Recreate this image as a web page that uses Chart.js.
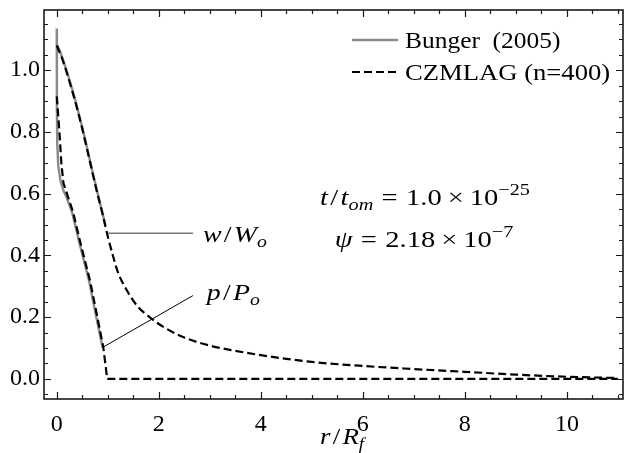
<!DOCTYPE html>
<html>
<head>
<meta charset="utf-8">
<script src="https://cdn.jsdelivr.net/npm/chart.js@4.4.1/dist/chart.umd.min.js"></script>
<style>
  html, body { margin: 0; padding: 0; background: #fff; }
</style>
</head>
<body>
<canvas id="myChart" width="628" height="453"></canvas>
<script>
// CZMLAG (n=400): crack opening w/Wo against r/Rf
const czmOpenR = [0, 0.1, 0.2, 0.3, 0.4, 0.5, 0.6, 0.7, 0.8, 0.9, 1.0, 1.1, 1.2, 1.37, 1.59, 1.82, 2.0, 2.2, 2.5, 3, 3.5, 4, 4.5, 5, 6, 7, 8, 9, 10, 11];
const czmOpen = [1.08, 1.04, 0.99, 0.935, 0.875, 0.81, 0.74, 0.668, 0.598, 0.533, 0.462, 0.4, 0.345, 0.288, 0.234, 0.2, 0.178, 0.158, 0.134, 0.108, 0.091, 0.077, 0.065, 0.055, 0.042, 0.032, 0.023, 0.014, 0.007, 0.003];

// CZMLAG (n=400): net pressure p/Po
const czmPresR = [0, 0.03, 0.06, 0.09, 0.13, 0.2, 0.32, 0.48, 0.65, 0.78, 0.91, 0.99, 2, 4, 6, 8, 10, 11];
const czmPres = [0.915, 0.85, 0.78, 0.7, 0.635, 0.6, 0.54, 0.43, 0.32, 0.213, 0.105, 0, 0, 0, 0, 0, 0, 0];

// Bunger (2005) reference solution
const bungerOpenR = [0, 0.1, 0.2, 0.3, 0.4, 0.5, 0.6, 0.7, 0.8, 0.9, 0.95];
const bungerOpen = [1.085, 1.045, 0.995, 0.94, 0.88, 0.815, 0.745, 0.672, 0.602, 0.535, 0.5];
const bungerPresR = [0, 0.003, 0.01, 0.03, 0.07, 0.12, 0.2, 0.3, 0.46, 0.63, 0.76, 0.9];
const bungerPres = [1.135, 0.87, 0.76, 0.69, 0.645, 0.615, 0.585, 0.54, 0.43, 0.32, 0.213, 0.1];

const xTicks = [0, 2, 4, 6, 8, 10];
const yTicks = [0, 0.2, 0.4, 0.6, 0.8, 1.0];

function pts(xs, ys) {
    return xs.map((x, i) => ({ x: x, y: ys[i] }));
}

const SERIF = '"Liberation Serif", "DejaVu Serif", serif';
const GRAY = '#8a8a8a';

// draws a run of roman / italic / sub / superscript pieces,
// stretched sideways by sx
function mathText(ctx, runs, x, y, size, sx) {
    ctx.save();
    ctx.translate(x, y);
    ctx.scale(sx || 1, 1);
    ctx.textBaseline = 'alphabetic';
    ctx.textAlign = 'left';
    ctx.fillStyle = '#000';
    let cx = 0;
    for (const r of runs) {
        const small = r.sub || r.sup;
        const s = small ? Math.round(size * 0.7) : size;
        ctx.font = (r.it ? 'italic ' : '') + s + 'px ' + SERIF;
        const dy = r.sub ? size * 0.22 : (r.sup ? -size * 0.42 : 0);
        cx += r.pre || 0;
        ctx.fillText(r.t, cx, dy);
        cx += ctx.measureText(r.t).width + (r.gap || 0);
    }
    ctx.restore();
}

// frame with inward major and minor ticks on all four sides
const framePlugin = {
    id: 'frame',
    afterDraw(chart) {
        const { ctx, chartArea: a, scales: { x, y } } = chart;
        ctx.save();
        ctx.strokeStyle = '#1a1a1a';
        ctx.lineWidth = 1.6;
        ctx.strokeRect(a.left, a.top, a.right - a.left, a.bottom - a.top);
        ctx.lineWidth = 1.2;
        ctx.beginPath();
        for (let v = 0; v <= 11.001; v += 0.5) {
            const px = Math.round(x.getPixelForValue(v)) + 0.5;
            const len = Math.abs(v / 2 - Math.round(v / 2)) < 1e-6 ? 7 : 4;
            ctx.moveTo(px, a.bottom); ctx.lineTo(px, a.bottom - len);
            ctx.moveTo(px, a.top); ctx.lineTo(px, a.top + len);
        }
        for (let k = -1; k <= 23; k++) {
            const v = k * 0.05;
            const py = Math.round(y.getPixelForValue(v)) + 0.5;
            const len = k % 4 === 0 ? 7 : 4;
            ctx.moveTo(a.left, py); ctx.lineTo(a.left + len, py);
            ctx.moveTo(a.right, py); ctx.lineTo(a.right - len, py);
        }
        ctx.stroke();
        ctx.restore();
    }
};

// legend, leader lines and text notes
const notesPlugin = {
    id: 'notes',
    afterDraw(chart) {
        const { ctx, chartArea: a, scales: { x, y } } = chart;
        ctx.save();

        // legend in the upper right corner
        const lx = a.right - 271;
        ctx.lineWidth = 2.4;
        ctx.strokeStyle = GRAY;
        ctx.beginPath(); ctx.moveTo(lx, 40); ctx.lineTo(lx + 46, 40); ctx.stroke();
        ctx.strokeStyle = '#000';
        ctx.lineWidth = 2.2;
        ctx.setLineDash([8, 4]);
        ctx.beginPath(); ctx.moveTo(lx, 72); ctx.lineTo(lx + 46, 72); ctx.stroke();
        ctx.setLineDash([]);
        mathText(ctx, [{ t: 'Bunger  (2005)' }], lx + 53, 48, 24, 1.06);
        mathText(ctx, [{ t: 'CZMLAG (n=400)' }], lx + 53, 80, 24, 1.11);

        // leader lines to the curve labels
        ctx.strokeStyle = '#777';
        ctx.lineWidth = 1.5;
        ctx.beginPath();
        ctx.moveTo(x.getPixelForValue(1.0), y.getPixelForValue(0.472));
        ctx.lineTo(x.getPixelForValue(2.67), y.getPixelForValue(0.472));
        ctx.stroke();
        ctx.strokeStyle = '#000';
        ctx.lineWidth = 1;
        ctx.beginPath();
        ctx.moveTo(x.getPixelForValue(0.92), y.getPixelForValue(0.104));
        ctx.lineTo(x.getPixelForValue(2.67), y.getPixelForValue(0.27));
        ctx.stroke();

        const size = 24;
        mathText(ctx, [
            { t: 'w', it: true, gap: 2 }, { t: '/', gap: 2 }, { t: 'W', it: true }, { t: 'o', it: true, sub: true }
        ], x.getPixelForValue(2.865), y.getPixelForValue(0.443), size, 1.16);
        mathText(ctx, [
            { t: 'p', it: true, gap: 2 }, { t: '/', gap: 2 }, { t: 'P', it: true }, { t: 'o', it: true, sub: true }
        ], x.getPixelForValue(2.94), y.getPixelForValue(0.256), size, 1.16);

        mathText(ctx, [
            { t: 't', it: true, gap: 2 }, { t: '/', gap: 2 }, { t: 't', it: true },
            { t: 'om', it: true, sub: true, gap: 7 }, { t: '=', gap: 7 }, { t: '1.0', gap: 5 },
            { t: '×', gap: 5 }, { t: '10' }, { t: '−25', sup: true }
        ], x.getPixelForValue(5.16), y.getPixelForValue(0.563), size, 1.19);
        mathText(ctx, [
            { t: 'ψ', it: true, gap: 7 }, { t: '=', gap: 7 }, { t: '2.18', gap: 5 },
            { t: '×', gap: 5 }, { t: '10' }, { t: '−7', sup: true }
        ], x.getPixelForValue(5.45), y.getPixelForValue(0.427), size, 1.19);

        // axis title
        mathText(ctx, [
            { t: 'r', it: true, gap: 2 }, { t: '/', gap: 2 }, { t: 'R', it: true }, { t: 'f', it: true, sub: true }
        ], 320, 444, size, 1.12);

        ctx.restore();
    }
};

const ctx = document.getElementById('myChart').getContext('2d');
const myChart = new Chart(ctx, {
    type: 'line',
    data: {
        datasets: [
            {
                label: 'Bunger  (2005)',
                data: pts(bungerOpenR, bungerOpen),
                borderColor: GRAY,
                borderWidth: 2.4,
                cubicInterpolationMode: 'monotone',
                order: 2
            },
            {
                label: 'Bunger  (2005)',
                data: pts(bungerPresR, bungerPres),
                borderColor: GRAY,
                borderWidth: 2.4,
                tension: 0,
                order: 2
            },
            {
                label: 'CZMLAG (n=400)',
                data: pts(czmOpenR, czmOpen),
                borderColor: '#000',
                borderWidth: 2.2,
                borderDash: [8, 4],
                cubicInterpolationMode: 'monotone',
                order: 1
            },
            {
                label: 'CZMLAG (n=400)',
                data: pts(czmPresR, czmPres),
                borderColor: '#000',
                borderWidth: 2.2,
                borderDash: [8, 4],
                tension: 0,
                order: 1
            }
        ]
    },
    options: {
        responsive: false,
        animation: false,
        events: [],
        elements: {
            point: { radius: 0 },
            line: { fill: false }
        },
        layout: {
            padding: { top: 10, right: 5, left: 0, bottom: 0 }
        },
        plugins: {
            legend: { display: false },
            tooltip: { enabled: false }
        },
        scales: {
            x: {
                type: 'linear',
                min: -0.25,
                max: 11.1,
                afterBuildTicks: function(scale) {
                    scale.ticks = xTicks.map(v => ({ value: v }));
                },
                afterFit: function(scale) {
                    scale.height = 54;
                    scale.paddingLeft = 0;
                    scale.paddingRight = 0;
                },
                grid: { display: false, drawTicks: false },
                border: { display: false },
                ticks: {
                    color: '#000',
                    font: { family: SERIF, size: 24 },
                    padding: 11,
                    maxRotation: 0,
                    autoSkip: false
                }
            },
            y: {
                type: 'linear',
                min: -0.065,
                max: 1.195,
                afterBuildTicks: function(scale) {
                    scale.ticks = yTicks.map(v => ({ value: v }));
                },
                afterFit: function(scale) {
                    scale.width = 44;
                    scale.paddingTop = 0;
                    scale.paddingBottom = 0;
                },
                grid: { display: false, drawTicks: false },
                border: { display: false },
                ticks: {
                    color: '#000',
                    font: { family: SERIF, size: 24 },
                    padding: 4,
                    callback: function(value) {
                        return value.toFixed(1);
                    }
                }
            }
        }
    },
    plugins: [framePlugin, notesPlugin]
});
</script>
</body>
</html>
